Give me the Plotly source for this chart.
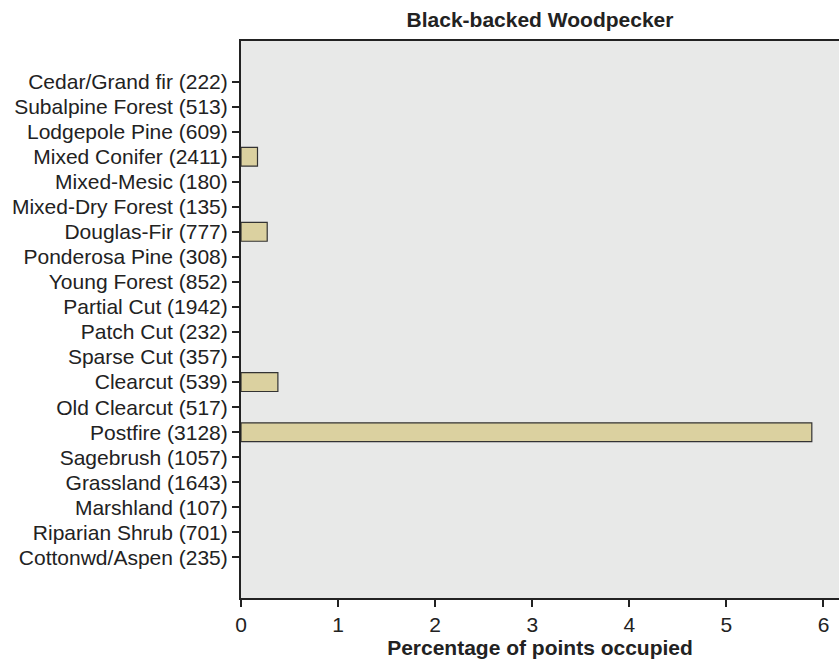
import plotly.graph_objects as go

categories = ["Cedar/Grand fir (222)", "Subalpine Forest (513)", "Lodgepole Pine (609)",
              "Mixed Conifer (2411)", "Mixed-Mesic (180)", "Mixed-Dry Forest (135)",
              "Douglas-Fir (777)", "Ponderosa Pine (308)", "Young Forest (852)",
              "Partial Cut (1942)", "Patch Cut (232)", "Sparse Cut (357)",
              "Clearcut (539)", "Old Clearcut (517)", "Postfire (3128)",
              "Sagebrush (1057)", "Grassland (1643)", "Marshland (107)",
              "Riparian Shrub (701)", "Cottonwd/Aspen (235)"]
values = [0, 0, 0, 0.17, 0, 0, 0.27, 0, 0, 0, 0, 0, 0.38, 0, 5.88, 0, 0, 0, 0, 0]
x_ticks = [0, 1, 2, 3, 4, 5, 6]

pos = list(range(len(categories)))
bx = [v for v in values if v > 0]
by = [p for p, v in zip(pos, values) if v > 0]

fig = go.Figure()
fig.add_trace(go.Bar(x=bx, y=by, orientation="h", width=0.75,
                     marker=dict(color="#dbd1a0", line=dict(color="#333333", width=1.2))))
fig.update_layout(
    width=839, height=659,
    margin=dict(l=241, r=0, t=41, b=61),
    paper_bgcolor="white", plot_bgcolor="#e8e9e8",
    font=dict(family="Liberation Sans, Arial, sans-serif", color="#222222"),
    showlegend=False,
    title=dict(text="<b>Black-backed Woodpecker</b>", x=(241 + 839) / 2 / 839, xanchor="center",
               y=1 - 20 / 659, yanchor="middle", font=dict(size=21)),
)
fig.update_xaxes(range=[0, 6.16], tickvals=x_ticks, ticks="outside", ticklen=7, tickwidth=2,
                 tickcolor="#222222", showline=True, linecolor="#222222", linewidth=2,
                 mirror=True, showgrid=False, zeroline=False, tickfont=dict(size=21),
                 title=dict(text="<b>Percentage of points occupied</b>", font=dict(size=21), standoff=0))
fig.update_yaxes(range=[20.62, -1.62], tickvals=pos, ticktext=categories, ticks="outside",
                 ticklen=7, tickwidth=2, tickcolor="#222222", showline=True, linecolor="#222222",
                 linewidth=2, showgrid=False, zeroline=False, tickfont=dict(size=21))
fig.write_html("out.html", config={"displayModeBar": False},
               post_script="document.body.style.margin='0';")
